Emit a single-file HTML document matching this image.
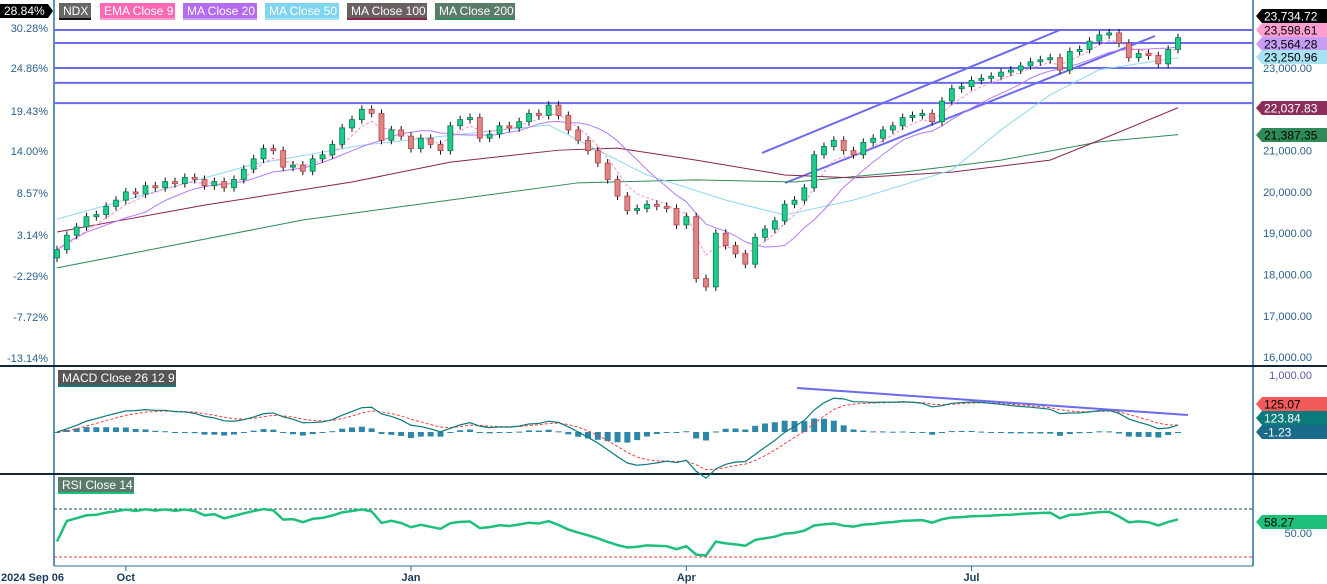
<!DOCTYPE html>
<html><head><meta charset="utf-8"><style>
body{margin:0;width:1327px;height:584px;overflow:hidden;background:#fff;font-family:"Liberation Sans",sans-serif}
svg{display:block}
</style></head><body>
<svg id="c" width="1327" height="584" xmlns="http://www.w3.org/2000/svg" font-family="Liberation Sans, sans-serif" font-size="11"></svg>
<script>
const closes=[18600,18950,19150,19400,19450,19650,19800,20000,19950,20150,
20100,20250,20200,20350,20300,20150,20250,20100,20300,20550,
20800,21050,21000,20600,20650,20500,20800,20900,21150,21550,
21750,22000,21900,21250,21500,21350,21050,21300,21150,21000,
21600,21750,21800,21300,21400,21600,21550,21700,21900,21850,
22100,21850,21500,21250,21000,20700,20300,19900,19550,19600,
19700,19650,19600,19200,19400,17900,17700,19000,18700,18500,
18250,18900,19100,19300,19700,19800,20100,20900,21100,21250,
21000,20900,21200,21300,21500,21600,21800,21850,21900,21700,
22200,22500,22550,22700,22750,22800,22900,22950,23050,23150,
23200,23250,22950,23400,23450,23650,23800,23850,23600,23250,
23350,23300,23100,23450,23735];
const firstOpen=18400;
const ma50Idx=[0,9,20,31,40,50,55,60,68,74,81,91,96,101,106,114];
const ma50Vals=[19340,19940,20670,21130,21370,21620,21010,20410,19800,19440,19800,20530,21500,22350,22960,23251];
const ma100Idx=[0,15,30,40,51,57,65,74,81,91,101,106,114];
const ma100Vals=[19030,19680,20240,20720,21010,21060,20770,20410,20340,20480,20770,21250,22038];
const ma200Idx=[0,25,53,65,75,86,96,106,114];
const ma200Vals=[18160,19320,20220,20290,20240,20480,20770,21210,21387];
const xLabels=["2024 Sep 06","Oct","Jan","Apr","Jul"];
const xLabelIdx=[0,7,36,64,93];
const priceTicks=[23000,22000,21000,20000,19000,18000,17000,16000];
const pctTicks=["30.28%","24.86%","19.43%","14.00%","8.57%","3.14%","-2.29%","-7.72%","-13.14%"];
const pctY=[28,68,111,151,193,235,276,317,358];
const hLevels=[23920,23605,23000,22640,22150];

const S=document.getElementById('c');const NS="http://www.w3.org/2000/svg";
function el(t,a,p){const e=document.createElementNS(NS,t);for(const k in a)e.setAttribute(k,a[k]);(p||S).appendChild(e);return e;}
const N=closes.length;
const X=i=>57+i*(1121/(N-1));
const Y=p=>68+(23000-p)*0.0413;
const MY=v=>432-v*0.057;
const RY=v=>533-(v-50)*0.85;

let g=el('g',{});
el('line',{x1:54,y1:0,x2:54,y2:566,stroke:'#2a6f9a','stroke-width':1.5},g);
el('line',{x1:1253,y1:0,x2:1253,y2:566,stroke:'#2a6f9a','stroke-width':1.5},g);
el('line',{x1:0,y1:366,x2:1327,y2:366,stroke:'#10283a','stroke-width':2},g);
el('line',{x1:0,y1:474,x2:1327,y2:474,stroke:'#10283a','stroke-width':2},g);
el('line',{x1:54,y1:566,x2:1253,y2:566,stroke:'#2a6f9a','stroke-width':1},g);
pctTicks.forEach((t,i)=>{const e=el('text',{x:48,y:pctY[i]+4,'text-anchor':'end',fill:'#2a5f8a'},g);e.textContent=t;});
priceTicks.forEach(p=>{const e=el('text',{x:1312,y:Y(p)+4,'text-anchor':'end',fill:'#2a5f8a'},g);e.textContent=p.toLocaleString('en-US',{minimumFractionDigits:2});});
xLabels.forEach((t,i)=>{const x=i==0?0:X(xLabelIdx[i]);if(i>0)el('line',{x1:x,y1:566,x2:x,y2:571,stroke:'#2a6f9a'},g);const e=el('text',{x:i==0?1:x,y:581,'text-anchor':i==0?'start':'middle',fill:'#1a3a5a','font-weight':'bold'},g);e.textContent=t;});

hLevels.forEach(p=>{const l=el('line',{x1:54,y1:Y(p),x2:1253,y2:Y(p),stroke:'#6b6bf0','stroke-width':2});});
[[762,153,1060,30],[785,183,1155,36]].forEach(a=>{const l=el('line',{x1:a[0],y1:a[1],x2:a[2],y2:a[3],stroke:'#6b6bf0','stroke-width':2});});

function poly(pts,color,w,name,dash){const e=el('polyline',{points:pts.map(p=>p.join(',')).join(' '),fill:'none',stroke:color,'stroke-width':w});if(dash)e.setAttribute('stroke-dasharray',dash);return e;}
poly(ma200Idx.map((k,j)=>[X(k),Y(ma200Vals[j])]),'#2e8b57',1,'ma200-line');
poly(ma100Idx.map((k,j)=>[X(k),Y(ma100Vals[j])]),'#8b2252',1,'ma100-line');
poly(ma50Idx.map((k,j)=>[X(k),Y(ma50Vals[j])]),'#8fd8f0',1,'ma50-line');
let ma20=[];for(let i=0;i<N;i++){const s=closes.slice(Math.max(0,i-9),i+1);ma20.push(s.reduce((a,b)=>a+b,0)/s.length);}
poly(ma20.map((v,i)=>[X(i),Y(v)]),'#b57af5',1,'ma20-line');
let ema=[],e9=closes[0];const ka=2/(4.5+1);closes.forEach((c,i)=>{e9=i?c*ka+e9*(1-ka):c;ema.push(e9);});
poly(ema.map((v,i)=>[X(i),Y(v)]),'#ff8cc6',1,'ema9-line','3,2');

const cg=el('g',{});
closes.forEach((c,i)=>{const o=i?closes[i-1]:firstOpen;const up=c>=o;const x=X(i);
 const y1=Y(Math.max(o,c)),y2=Y(Math.min(o,c));
 const w=el('line',{x1:x,y1:y1-4,x2:x,y2:y2+4,stroke:'#111'},cg);
 const r=el('rect',{x:x-2.5,y:y1,width:5,height:Math.max(1,y2-y1),fill:up?'#1fcc8a':'#e08585',stroke:up?'#0a7a50':'#b04545','stroke-width':0.8},cg);});

function emaS(arr,p){const k=2/(p+1);let v=arr[0];return arr.map((c,i)=>v=i?c*k+v*(1-k):c);}
const e12=emaS(closes,6),e26=emaS(closes,13);const macd=e12.map((v,i)=>(v-e26[i])*1.1);const sig=emaS(macd,4.5);
const mg=el('g',{});
macd.forEach((v,i)=>{const h=v-sig[i];const y=MY(h);const r=el('rect',{x:X(i)-3,y:Math.min(y,432),width:6,height:Math.max(1,Math.abs(y-432)),fill:'#2e86a8'},mg);});
poly(sig.map((v,i)=>[X(i),MY(v)]),'#f04040',1,'macd-signal-line','3,2');
poly(macd.map((v,i)=>[X(i),MY(v)]),'#0a7a7a',1.2,'macd-line');
let ml=el('line',{x1:797,y1:388,x2:1188,y2:415,stroke:'#6b6bf0','stroke-width':2});
let t=el('text',{x:1312,y:379,'text-anchor':'end',fill:'#5a5aa0'});t.textContent='1,000.00';

const rg=el('g',{});
el('line',{x1:54,y1:509,x2:1253,y2:509,stroke:'#1a4a6a','stroke-dasharray':'3,2'},rg);
el('line',{x1:54,y1:557,x2:1253,y2:557,stroke:'#f04040','stroke-dasharray':'3,2'},rg);
let ag=60,al=45,rsi=[];const P=18;
closes.forEach((c,i)=>{if(i==0){rsi.push(40);return;}const d=c-closes[i-1];const gg=Math.max(d,0),ll=Math.max(-d,0);
 ag=(ag*(P-1)+gg)/P;al=(al*(P-1)+ll)/P;rsi.push(100-100/(1+ag/(al||1)));});
poly(rsi.map((v,i)=>[X(i),RY(v)]),'#1dbf7a',2.5,'rsi-line');
t=el('text',{x:1312,y:537,'text-anchor':'end',fill:'#2a5f8a'});t.textContent='50.00';

function tag(x,y,txt,bg,fg,name,w){const gg=el('g',{});
 el('path',{d:`M${x} ${y} l6 -7 h${w} v14 h-${w} z`,fill:bg},gg);const e=el('text',{x:x+8,y:y+4.5,fill:fg,'font-size':12},gg);e.textContent=txt;}
tag(1256,16,'23,734.72','#000','#fff','last-price-tag',80);
tag(1256,30,'23,598.61','#ff9ed0','#000','ema9-tag',80);
tag(1256,44,'23,564.28','#c79cf5','#000','ma20-tag',80);
tag(1256,57,'23,250.96','#a8e2f5','#000','ma50-tag',80);
tag(1256,108,'22,037.83','#8b2d5a','#fff','ma100-tag',80);
tag(1256,135,'21,387.35','#2e8b57','#000','ma200-tag',80);
tag(1256,404,'125.07','#f05a5a','#000','macd-signal-tag',80);
tag(1256,418,'123.84','#0a7a7a','#fff','macd-tag',80);
tag(1256,432,'-1.23','#1a6a8a','#fff','macd-hist-tag',80);
tag(1256,522,'58.27','#1dbf7a','#000','rsi-tag',80);
let pg=el('g',{});
el('path',{d:'M0 4 h48 l5 7 l-5 7 h-48 z',fill:'#000'},pg);t=el('text',{x:4,y:15,fill:'#fff','font-size':12},pg);t.textContent='28.84%';

function chip(x,y,w,txt,bg,ul,name){const gg=el('g',{});
 el('rect',{x:x,y:y,width:w,height:15,fill:bg},gg);el('rect',{x:x,y:y+15,width:w,height:2,fill:ul},gg);
 const e=el('text',{x:x+4,y:y+12,fill:'#fff','font-size':12},gg);e.textContent=txt;}
chip(59,3,32,'NDX','#666','#111','legend-ndx');
chip(100,3,75,'EMA Close 9','#ff69b4','#ff9ed0','legend-ema9');
chip(183,3,74,'MA Close 20','#b36bf0','#c79cf5','legend-ma20');
chip(265,3,74,'MA Close 50','#7fd4ef','#a8e2f5','legend-ma50');
chip(347,3,80,'MA Close 100','#6b6060','#8b2252','legend-ma100');
chip(435,3,80,'MA Close 200','#5a7a6a','#2e8b57','legend-ma200');
chip(58,370,118,'MACD Close 26 12 9','#555','#0a7a7a','legend-macd');
chip(58,477,76,'RSI Close 14','#5a7a6a','#1dbf7a','legend-rsi');
</script>
</body></html>
